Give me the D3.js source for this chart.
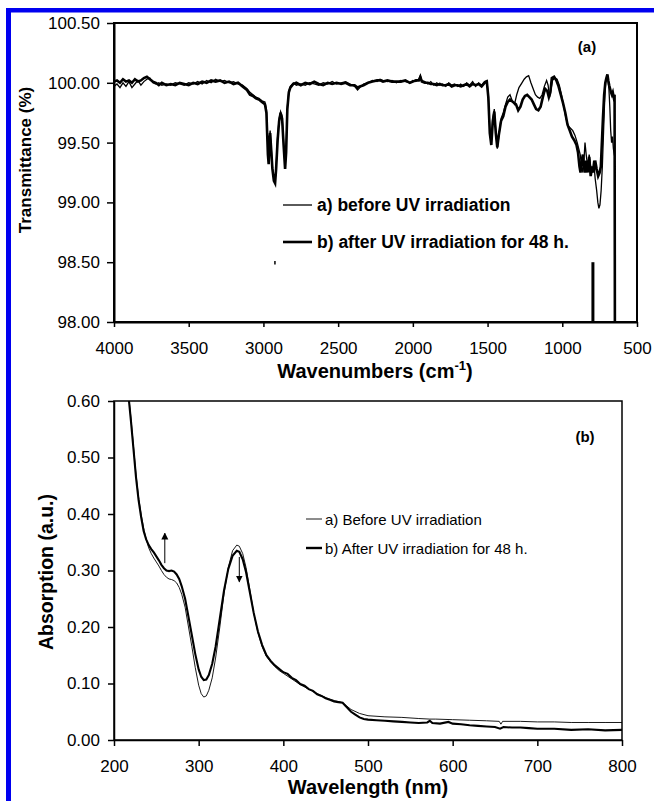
<!DOCTYPE html>
<html>
<head>
<meta charset="utf-8">
<script src="https://cdn.jsdelivr.net/npm/d3@7"></script>
<style>
  body { margin: 0; background: #fff; }
  svg { display: block; font-family: "Liberation Sans", Arial, sans-serif; }
</style>
</head>
<body>
<svg id="chart" width="654" height="801"></svg>
<script>
// ---- FTIR panel (a) : [wavenumber, transmittance] ----
const irBefore = [
  [4000,99.97],[3980,99.99],[3960,99.96],[3940,100.0],[3920,99.97],[3900,100.01],[3880,99.96],[3860,99.99],
  [3840,100.02],[3820,99.98],[3800,100.01],[3780,100.03],[3760,100.04],[3740,100.0],[3720,99.99],[3700,100.0],
  [3680,99.98],[3650,99.99],[3620,99.98],[3590,100.0],[3560,99.99],[3530,99.98],[3500,100.0],[3470,99.99],
  [3440,100.01],[3410,99.99],[3380,100.02],[3350,100.0],[3320,100.03],[3290,100.01],[3260,100.02],[3230,100.0],
  [3200,100.01],[3170,99.99],[3140,99.98],[3110,99.95],[3090,99.92],[3070,99.9],[3050,99.88],[3030,99.87],
  [3010,99.85],[2990,99.84],[2980,99.78],[2970,99.45],[2965,99.35],[2960,99.55],[2955,99.6],[2950,99.5],
  [2940,99.3],[2930,99.2],[2922,99.17],[2915,99.3],[2905,99.55],[2895,99.7],[2885,99.76],[2875,99.72],
  [2865,99.5],[2855,99.3],[2848,99.45],[2840,99.8],[2830,99.93],[2820,99.97],[2800,100.0],[2780,99.98],
  [2750,99.99],[2720,99.98],[2690,100.0],[2660,99.99],[2630,99.98],[2600,100.0],[2570,99.99],[2540,100.01],
  [2510,99.99],[2480,100.0],[2450,100.01],[2420,99.99],[2390,99.97],[2370,99.94],[2355,99.96],[2330,99.99],
  [2300,100.0],[2270,100.02],[2240,100.01],[2220,100.03],[2200,100.02],[2170,100.01],[2140,100.02],[2110,100.0],
  [2080,100.02],[2050,100.01],[2020,100.0],[2000,100.02],[1980,100.01],[1960,100.03],[1950,100.06],[1940,100.02],
  [1920,100.01],[1900,99.99],[1880,100.01],[1860,99.98],[1840,100.0],[1820,99.98],[1800,99.99],[1780,99.97],
  [1760,100.0],[1740,99.98],[1720,99.99],[1700,99.97],[1680,99.99],[1660,99.97],[1640,100.0],[1620,99.98],
  [1600,100.01],[1580,99.97],[1560,100.0],[1540,99.98],[1520,100.01],[1505,100.02],[1495,99.9],[1485,99.6],
  [1475,99.5],[1465,99.7],[1455,99.78],[1445,99.6],[1435,99.45],[1425,99.55],[1410,99.7],[1395,99.75],
  [1380,99.82],[1365,99.88],[1350,99.9],[1335,99.85],[1320,99.82],[1305,99.9],[1290,99.96],[1270,100.0],
  [1255,100.03],[1240,100.05],[1225,100.06],[1210,100.0],[1195,99.95],[1180,99.9],[1165,99.88],[1150,99.87],
  [1135,99.9],[1120,99.97],[1105,100.02],[1095,99.98],[1085,99.88],[1075,99.95],[1065,100.02],[1050,100.04],
  [1035,100.03],[1020,99.98],[1005,99.9],[990,99.8],[975,99.7],[960,99.64],[945,99.62],[930,99.6],
  [915,99.56],[900,99.5],[890,99.45],[880,99.4],[870,99.3],[862,99.25],[855,99.35],[848,99.5],
  [840,99.4],[830,99.3],[820,99.4],[810,99.3],[800,99.25],[790,99.35],[780,99.2],[770,99.1],
  [762,99.0],[755,98.95],[748,98.98],[740,99.1],[732,99.3],[725,99.55],[718,99.8],[710,100.0],
  [702,100.05],[695,100.02],[688,99.95],[682,99.8],[676,99.6],[670,99.5],[664,99.55],[658,99.45],
  [652,99.4],[648,99.38]
];

const irAfter = [
  [4000,100.01],[3980,100.02],[3960,100.0],[3940,100.03],[3920,100.01],[3900,100.02],[3880,100.0],[3860,100.03],
  [3840,100.01],[3820,100.02],[3800,100.04],[3780,100.05],[3760,100.03],[3740,100.01],[3720,100.0],[3700,99.98],
  [3680,100.0],[3650,99.98],[3620,99.99],[3590,99.98],[3560,100.0],[3530,99.99],[3500,99.98],[3470,100.0],
  [3440,99.99],[3410,100.01],[3380,100.0],[3350,100.02],[3320,100.01],[3290,100.02],[3260,100.0],[3230,100.01],
  [3200,99.99],[3170,100.0],[3140,99.97],[3110,99.94],[3090,99.9],[3070,99.89],[3050,99.87],[3030,99.86],
  [3010,99.84],[2990,99.82],[2980,99.75],[2970,99.4],[2965,99.32],[2960,99.5],[2955,99.58],[2950,99.48],
  [2940,99.28],[2930,99.18],[2922,99.16],[2915,99.28],[2905,99.52],[2895,99.68],[2885,99.75],[2875,99.7],
  [2865,99.48],[2855,99.28],[2848,99.42],[2840,99.78],[2830,99.92],[2820,99.96],[2800,99.99],[2780,100.0],
  [2750,99.98],[2720,100.0],[2690,99.99],[2660,100.01],[2630,99.99],[2600,99.98],[2570,100.0],[2540,99.99],
  [2510,100.0],[2480,99.99],[2450,100.0],[2420,99.98],[2390,99.98],[2370,99.96],[2355,99.97],[2330,99.98],
  [2300,100.0],[2270,100.01],[2240,100.02],[2220,100.02],[2200,100.01],[2170,100.02],[2140,100.01],[2110,100.01],
  [2080,100.01],[2050,100.02],[2020,100.0],[2000,100.01],[1980,100.02],[1960,100.02],[1950,100.05],[1940,100.01],
  [1920,100.0],[1900,100.0],[1880,99.99],[1860,99.99],[1840,99.98],[1820,99.99],[1800,99.98],[1780,99.98],
  [1760,99.99],[1740,99.97],[1720,99.98],[1700,99.98],[1680,99.97],[1660,99.98],[1640,99.99],[1620,99.97],
  [1600,99.99],[1580,99.98],[1560,99.99],[1540,99.97],[1520,100.0],[1505,100.01],[1495,99.88],[1485,99.58],
  [1475,99.48],[1465,99.68],[1455,99.76],[1445,99.58],[1435,99.46],[1425,99.56],[1410,99.68],[1395,99.72],
  [1380,99.8],[1365,99.84],[1350,99.86],[1330,99.84],[1310,99.82],[1295,99.77],[1280,99.8],[1265,99.86],
  [1250,99.89],[1235,99.9],[1220,99.88],[1205,99.86],[1190,99.82],[1175,99.78],[1160,99.77],[1145,99.8],
  [1130,99.88],[1115,99.95],[1100,99.93],[1090,99.88],[1080,99.92],[1070,100.04],[1055,100.05],[1040,100.02],
  [1025,99.97],[1010,99.9],[995,99.83],[980,99.75],[965,99.65],[950,99.6],[935,99.55],[920,99.52],
  [905,99.48],[895,99.42],[885,99.3],[878,99.25],[870,99.35],[862,99.4],[855,99.3],[848,99.25],
  [840,99.35],[830,99.25],[820,99.38],[810,99.22],[800,99.3],[790,99.25],[780,99.35],[770,99.28],
  [760,99.22],[750,99.25],[742,99.3],[735,99.5],[728,99.7],[720,99.9],[712,100.0],[705,100.04],
  [698,100.07],[692,100.02],[686,99.98],[680,99.95],[674,99.92],[668,99.9],[662,99.92],[656,99.88],
  [650,99.9],[648,98.0]
];

// stray vertical marks in the IR plot: [wavenumber, top, bottom]
const irMarks = [[2923, 98.51, 98.48], [795, 98.5, 98.0]];

const irXTicks = [4000, 3500, 3000, 2500, 2000, 1500, 1000, 500];
const irYTicks = [98.0, 98.5, 99.0, 99.5, 100.0, 100.5];
const irLegend = ["a) before UV irradiation", "b) after UV irradiation for 48 h."];

// ---- UV-Vis panel (b) : [wavelength, absorption] ----
const uvBefore = [
  [215,0.64],[218,0.6],[220,0.57],[223,0.52],[226,0.47],[229,0.43],[232,0.4],[235,0.375],[238,0.355],
  [241,0.34],[244,0.33],[247,0.322],[250,0.315],[253,0.308],[256,0.3],[259,0.293],[262,0.288],[265,0.285],
  [268,0.284],[271,0.282],[274,0.278],[277,0.27],[280,0.258],[284,0.235],[288,0.2],[292,0.165],[296,0.128],
  [300,0.097],[303,0.082],[306,0.076],[309,0.078],[312,0.088],[316,0.11],[320,0.145],[325,0.2],[330,0.26],
  [335,0.305],[340,0.335],[345,0.345],[348,0.343],[352,0.33],[356,0.305],[360,0.27],[365,0.225],[370,0.19],
  [375,0.165],[380,0.148],[385,0.138],[390,0.13],[395,0.123],[400,0.118],[410,0.108],[420,0.098],[430,0.09],
  [440,0.082],[450,0.075],[460,0.07],[465,0.068],[470,0.066],[475,0.06],[480,0.054],[490,0.047],[500,0.043],
  [520,0.041],[540,0.04],[560,0.038],[573,0.037],[580,0.037],[600,0.036],[620,0.035],[640,0.034],[655,0.033],
  [657,0.028],[659,0.033],[680,0.033],[700,0.032],[720,0.032],[740,0.031],[760,0.031],[780,0.031],[800,0.031]
];

const uvAfter = [
  [215,0.64],[217.7,0.6],[220,0.565],[223,0.515],[226,0.465],[229,0.425],[232,0.395],[235,0.37],[238,0.355],
  [241,0.345],[244,0.338],[247,0.332],[250,0.325],[253,0.318],[256,0.31],[259,0.304],[262,0.3],[265,0.299],
  [268,0.3],[271,0.298],[274,0.293],[277,0.285],[280,0.272],[284,0.25],[288,0.218],[292,0.185],[296,0.152],
  [300,0.125],[303,0.112],[306,0.106],[309,0.107],[312,0.115],[316,0.135],[320,0.165],[325,0.215],[330,0.265],
  [335,0.303],[340,0.326],[345,0.335],[348,0.333],[352,0.32],[356,0.297],[360,0.265],[365,0.225],[370,0.192],
  [375,0.168],[380,0.15],[385,0.14],[390,0.132],[395,0.126],[400,0.12],[405,0.117],[410,0.11],[415,0.106],
  [420,0.099],[425,0.096],[430,0.09],[435,0.087],[440,0.081],[445,0.078],[450,0.074],[455,0.071],[460,0.068],
  [465,0.067],[470,0.066],[475,0.058],[480,0.05],[485,0.045],[490,0.04],[495,0.037],[500,0.036],[510,0.035],
  [520,0.034],[530,0.033],[540,0.032],[550,0.031],[560,0.03],[570,0.031],[573,0.034],[576,0.03],[585,0.029],
  [595,0.032],[600,0.029],[610,0.028],[620,0.026],[630,0.025],[640,0.024],[650,0.023],[656,0.02],[660,0.023],
  [670,0.022],[680,0.022],[690,0.021],[700,0.02],[720,0.02],[740,0.018],[760,0.019],[780,0.017],[800,0.018]
];

// arrows showing the change: [wavelength, from, to]
const uvArrows = [[260, 0.313, 0.366], [348, 0.324, 0.28]];

const uvXTicks = [200, 300, 400, 500, 600, 700, 800];
const uvYTicks = [0, 0.1, 0.2, 0.3, 0.4, 0.5, 0.6];
const uvLegend = ["a) Before UV irradiation", "b) After UV irradiation for 48 h."];

const svg = d3.select("#chart");

// blue page frame
svg.append("rect").attr("x", 6).attr("y", 8).attr("width", 648).attr("height", 4.5).attr("fill", "#0000f0");
svg.append("rect").attr("x", 6).attr("y", 8).attr("width", 5).attr("height", 793).attr("fill", "#0000f0");

// ---------- panel (a) ----------
const xa = d3.scaleLinear().domain([4000, 500]).range([114, 637]);
const ya = d3.scaleLinear().domain([98, 100.5]).range([322, 23]);

svg.append("defs").append("clipPath").attr("id", "clipA")
  .append("rect").attr("x", 114).attr("y", 23).attr("width", 523).attr("height", 299);

const lineA = d3.line().x(d => xa(d[0])).y(d => ya(d[1]));
const gA = svg.append("g").attr("clip-path", "url(#clipA)");
gA.append("path").datum(irBefore).attr("d", lineA)
  .attr("fill", "none").attr("stroke", "#000").attr("stroke-width", 1.3);
gA.append("path").datum(irAfter).attr("d", lineA)
  .attr("fill", "none").attr("stroke", "#000").attr("stroke-width", 2.6);
gA.selectAll(".mark").data(irMarks).join("line")
  .attr("x1", d => xa(d[0])).attr("x2", d => xa(d[0]))
  .attr("y1", d => ya(d[1])).attr("y2", d => ya(d[2]))
  .attr("stroke", "#000").attr("stroke-width", d => d[1] - d[2] > 0.1 ? 3 : 1.5);

// frame
svg.append("rect").attr("x", 114).attr("y", 23).attr("width", 523).attr("height", 299)
  .attr("fill", "none").attr("stroke", "#000").attr("stroke-width", 2);

const axA_x = svg.append("g").attr("transform", "translate(0,322)")
  .call(d3.axisBottom(xa).tickValues(irXTicks).tickSize(5).tickSizeOuter(0).tickPadding(15).tickFormat(d3.format("d")));
const axA_y = svg.append("g").attr("transform", "translate(114,0)")
  .call(d3.axisLeft(ya).tickValues(irYTicks).tickSize(7).tickSizeOuter(0).tickPadding(7).tickFormat(d3.format(".2f")));
[axA_x, axA_y].forEach(ax => {
  ax.select(".domain").attr("stroke-width", 2);
  ax.selectAll(".tick line").attr("stroke-width", 1.5);
  ax.selectAll("text").attr("font-size", 17).attr("font-family", "Liberation Sans, Arial, sans-serif").attr("fill", "#000");
});

// titles
const tA = svg.append("text").attr("x", 375).attr("y", 378).attr("text-anchor", "middle")
  .attr("font-size", 20).attr("font-weight", "bold");
tA.append("tspan").text("Wavenumbers (cm");
tA.append("tspan").attr("dy", -8).attr("font-size", 13).text("-1");
tA.append("tspan").attr("dy", 8).text(")");

svg.append("text").attr("transform", "translate(31,160) rotate(-90)").attr("text-anchor", "middle")
  .attr("font-size", 17).attr("font-weight", "bold").text("Transmittance (%)");

svg.append("text").attr("x", 587).attr("y", 52).attr("text-anchor", "middle")
  .attr("font-size", 15).attr("font-weight", "bold").text("(a)");

// legend (a)
irLegend.forEach((t, i) => {
  const y = 205 + i * 37;
  svg.append("line").attr("x1", 283).attr("x2", 312).attr("y1", y).attr("y2", y)
    .attr("stroke", "#000").attr("stroke-width", i === 0 ? 1.3 : 2.6);
  svg.append("text").attr("x", 317).attr("y", y + 6).attr("font-size", 17.5).attr("font-weight", "bold").text(t);
});

// ---------- panel (b) ----------
const xb = d3.scaleLinear().domain([200, 800]).range([114, 622]);
const yb = d3.scaleLinear().domain([0, 0.6]).range([740, 401]);

svg.select("defs").append("clipPath").attr("id", "clipB")
  .append("rect").attr("x", 114).attr("y", 401).attr("width", 508).attr("height", 339);

const lineB = d3.line().x(d => xb(d[0])).y(d => yb(d[1]));
const gB = svg.append("g").attr("clip-path", "url(#clipB)");
gB.append("path").datum(uvBefore).attr("d", lineB)
  .attr("fill", "none").attr("stroke", "#000").attr("stroke-width", 0.9);
gB.append("path").datum(uvAfter).attr("d", lineB)
  .attr("fill", "none").attr("stroke", "#000").attr("stroke-width", 2.1);

svg.select("defs").append("marker").attr("id", "arrow")
  .attr("viewBox", "0 0 10 10").attr("refX", 9).attr("refY", 5)
  .attr("markerWidth", 7).attr("markerHeight", 9).attr("markerUnits", "userSpaceOnUse")
  .attr("orient", "auto")
  .append("path").attr("d", "M0,0 L10,5 L0,10 Z").attr("fill", "#000");

svg.selectAll(".arrow").data(uvArrows).join("line")
  .attr("x1", d => xb(d[0])).attr("x2", d => xb(d[0]))
  .attr("y1", d => yb(d[1])).attr("y2", d => yb(d[2]))
  .attr("stroke", "#000").attr("stroke-width", 1).attr("marker-end", "url(#arrow)");

svg.append("rect").attr("x", 114).attr("y", 401).attr("width", 508).attr("height", 339)
  .attr("fill", "none").attr("stroke", "#000").attr("stroke-width", 1.5);

const axB_x = svg.append("g").attr("transform", "translate(0,740)")
  .call(d3.axisBottom(xb).tickValues(uvXTicks).tickSize(6).tickSizeOuter(0).tickPadding(14).tickFormat(d3.format("d")));
const axB_y = svg.append("g").attr("transform", "translate(114,0)")
  .call(d3.axisLeft(yb).tickValues(uvYTicks).tickSize(6).tickSizeOuter(0).tickPadding(8).tickFormat(d3.format(".2f")));
[axB_x, axB_y].forEach(ax => {
  ax.select(".domain").attr("stroke-width", 1.5);
  ax.selectAll(".tick line").attr("stroke-width", 1.5);
  ax.selectAll("text").attr("font-size", 17).attr("font-family", "Liberation Sans, Arial, sans-serif").attr("fill", "#000");
});

svg.append("text").attr("x", 368).attr("y", 794).attr("text-anchor", "middle")
  .attr("font-size", 20).attr("font-weight", "bold").text("Wavelength (nm)");

svg.append("text").attr("transform", "translate(53,572) rotate(-90)").attr("text-anchor", "middle")
  .attr("font-size", 19.5).attr("font-weight", "bold").text("Absorption (a.u.)");

svg.append("text").attr("x", 585).attr("y", 442).attr("text-anchor", "middle")
  .attr("font-size", 15).attr("font-weight", "bold").text("(b)");

// legend (b)
uvLegend.forEach((t, i) => {
  const y = 519 + i * 29;
  svg.append("line").attr("x1", 306).attr("x2", 322).attr("y1", y).attr("y2", y)
    .attr("stroke", "#000").attr("stroke-width", i === 0 ? 0.9 : 2.4);
  svg.append("text").attr("x", 325).attr("y", y + 5.5).attr("font-size", 15).text(t);
});
</script>
</body>
</html>
